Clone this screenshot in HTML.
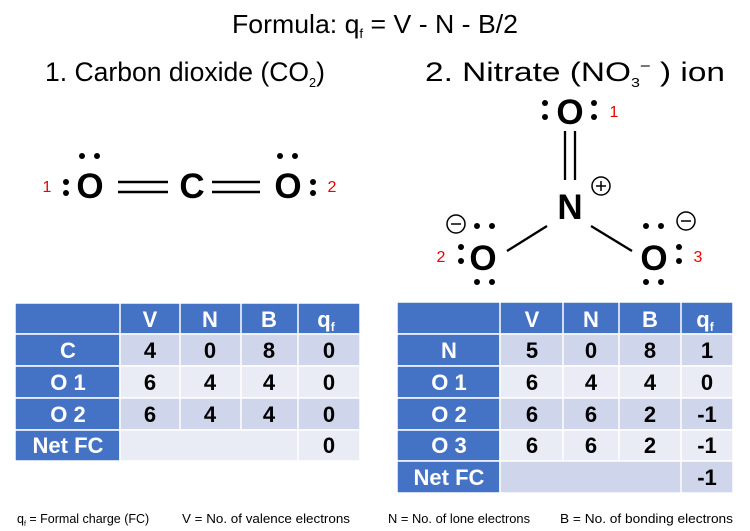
<!DOCTYPE html>
<html><head><meta charset="utf-8"><style>
html,body{margin:0;padding:0;background:#fff;}
svg{display:block;font-family:"Liberation Sans",sans-serif;}
.h{fill:#fff;font-weight:bold;font-size:22px;text-anchor:middle;}
.d{fill:#000;font-weight:bold;font-size:22px;text-anchor:middle;}
.at{font-size:35px;text-anchor:middle;fill:#000;font-weight:bold;}
.r{fill:#e00;font-size:16px;text-anchor:middle;}
.f{font-size:12.5px;fill:#000;}
</style></head><body>
<svg width="750" height="531" viewBox="0 0 750 531">
<text x="232" y="33" font-size="26" textLength="286" lengthAdjust="spacingAndGlyphs">Formula: q<tspan font-size="13" dy="5">f</tspan><tspan dy="-5"> = V - N - B/2</tspan></text>
<text x="45" y="81" font-size="27" textLength="280" lengthAdjust="spacingAndGlyphs">1. Carbon dioxide (CO<tspan font-size="13" dy="6">2</tspan><tspan dy="-6">)</tspan></text>
<text x="425" y="81" font-size="27" textLength="300" lengthAdjust="spacingAndGlyphs">2. Nitrate (NO<tspan font-size="13" dy="6">3</tspan><tspan dy="-16" font-size="15">−</tspan><tspan dy="10" font-size="27"> ) ion</tspan></text>

<!-- CO2 -->
<g fill="#000">
<text class="at" x="90" y="198">O</text>
<text class="at" x="192" y="198">C</text>
<text class="at" x="288" y="198">O</text>
<circle cx="82" cy="156" r="3"/><circle cx="97" cy="156" r="3"/>
<circle cx="66" cy="182" r="3"/><circle cx="66" cy="193" r="3"/>
<circle cx="280" cy="156" r="3"/><circle cx="295" cy="156" r="3"/>
<circle cx="313" cy="182" r="3"/><circle cx="313" cy="193" r="3"/>
</g>
<g stroke="#000" stroke-width="2.5">
<line x1="118" y1="182" x2="168" y2="182"/><line x1="118" y1="192" x2="168" y2="192"/>
<line x1="212" y1="182" x2="260" y2="182"/><line x1="212" y1="192" x2="260" y2="192"/>
</g>
<text class="r" x="47" y="192">1</text>
<text class="r" x="332" y="192">2</text>

<!-- NO3 -->
<g fill="#000">
<text class="at" x="570" y="124">O</text>
<circle cx="545" cy="103" r="3"/><circle cx="545" cy="117" r="3"/>
<circle cx="594" cy="103" r="3"/><circle cx="594" cy="117" r="3"/>
<text class="at" x="570" y="219">N</text>
<text class="at" x="483" y="270">O</text>
<circle cx="477" cy="226" r="3"/><circle cx="492" cy="226" r="3"/>
<circle cx="477" cy="282" r="3"/><circle cx="492" cy="282" r="3"/>
<circle cx="461" cy="247" r="3"/><circle cx="461" cy="261" r="3"/>
<text class="at" x="654" y="270">O</text>
<circle cx="646" cy="226" r="3"/><circle cx="661" cy="226" r="3"/>
<circle cx="646" cy="282" r="3"/><circle cx="661" cy="282" r="3"/>
<circle cx="679" cy="247" r="3"/><circle cx="679" cy="261" r="3"/>
</g>
<g stroke="#000" stroke-width="2.3" fill="none">
<line x1="565" y1="131" x2="565" y2="180"/><line x1="575" y1="131" x2="575" y2="180"/>
<line x1="547" y1="226" x2="507" y2="251"/><line x1="591" y1="226" x2="632" y2="251"/>
<circle cx="601" cy="186" r="9" stroke-width="1.5"/><line x1="596" y1="186" x2="606" y2="186" stroke-width="1.5"/><line x1="601" y1="181" x2="601" y2="191" stroke-width="1.5"/>
<circle cx="456" cy="224" r="9" stroke-width="1.5"/><line x1="451" y1="224" x2="461" y2="224" stroke-width="1.5"/>
<circle cx="686" cy="221" r="9" stroke-width="1.5"/><line x1="681" y1="221" x2="691" y2="221" stroke-width="1.5"/>
</g>
<text class="r" x="614" y="117">1</text>
<text class="r" x="441" y="262">2</text>
<text class="r" x="698" y="262">3</text>

<!-- Table 1 -->
<g stroke="#fff" stroke-width="1.5">
<rect x="15" y="303" width="345" height="31" fill="#4472C4"/>
<rect x="15" y="334" width="105" height="32" fill="#4472C4"/>
<rect x="15" y="366" width="105" height="32" fill="#4472C4"/>
<rect x="15" y="398" width="105" height="32" fill="#4472C4"/>
<rect x="15" y="430" width="105" height="31" fill="#4472C4"/>
<rect x="120" y="334" width="240" height="32" fill="#CFD5EA"/>
<rect x="120" y="366" width="240" height="32" fill="#E9EBF5"/>
<rect x="120" y="398" width="240" height="32" fill="#CFD5EA"/>
<rect x="120" y="430" width="240" height="31" fill="#E9EBF5"/>
</g>
<g stroke="#fff" stroke-width="1.5">
<line x1="120" y1="303" x2="120" y2="334"/><line x1="180" y1="303" x2="180" y2="430"/><line x1="241" y1="303" x2="241" y2="430"/><line x1="298" y1="303" x2="298" y2="461"/>
</g>
<text class="h" x="150" y="327">V</text><text class="h" x="210" y="327">N</text><text class="h" x="269" y="327">B</text><text class="h" x="326" y="327">q<tspan font-size="12" dy="4">f</tspan></text>
<text class="h" x="68" y="358">C</text><text class="h" x="68" y="390">O 1</text><text class="h" x="68" y="422">O 2</text><text class="h" x="68" y="453">Net FC</text>
<text class="d" x="150" y="358">4</text><text class="d" x="210" y="358">0</text><text class="d" x="269" y="358">8</text><text class="d" x="329" y="358">0</text>
<text class="d" x="150" y="390">6</text><text class="d" x="210" y="390">4</text><text class="d" x="269" y="390">4</text><text class="d" x="329" y="390">0</text>
<text class="d" x="150" y="422">6</text><text class="d" x="210" y="422">4</text><text class="d" x="269" y="422">4</text><text class="d" x="329" y="422">0</text>
<text class="d" x="329" y="453">0</text>

<!-- Table 2 -->
<g stroke="#fff" stroke-width="1.5">
<rect x="397" y="302" width="336" height="32" fill="#4472C4"/>
<rect x="397" y="334" width="103" height="32" fill="#4472C4"/>
<rect x="397" y="366" width="103" height="32" fill="#4472C4"/>
<rect x="397" y="398" width="103" height="32" fill="#4472C4"/>
<rect x="397" y="430" width="103" height="31" fill="#4472C4"/>
<rect x="397" y="461" width="103" height="32" fill="#4472C4"/>
<rect x="500" y="334" width="233" height="32" fill="#CFD5EA"/>
<rect x="500" y="366" width="233" height="32" fill="#E9EBF5"/>
<rect x="500" y="398" width="233" height="32" fill="#CFD5EA"/>
<rect x="500" y="430" width="233" height="31" fill="#E9EBF5"/>
<rect x="500" y="461" width="233" height="32" fill="#CFD5EA"/>
</g>
<g stroke="#fff" stroke-width="1.5">
<line x1="500" y1="302" x2="500" y2="334"/><line x1="563" y1="302" x2="563" y2="461"/><line x1="619" y1="302" x2="619" y2="461"/><line x1="681" y1="302" x2="681" y2="493"/>
</g>
<text class="h" x="532" y="327">V</text><text class="h" x="591" y="327">N</text><text class="h" x="650" y="327">B</text><text class="h" x="705" y="327">q<tspan font-size="12" dy="4">f</tspan></text>
<text class="h" x="449" y="358">N</text><text class="h" x="449" y="390">O 1</text><text class="h" x="449" y="422">O 2</text><text class="h" x="449" y="453">O 3</text><text class="h" x="449" y="485">Net FC</text>
<text class="d" x="532" y="358">5</text><text class="d" x="591" y="358">0</text><text class="d" x="650" y="358">8</text><text class="d" x="707" y="358">1</text>
<text class="d" x="532" y="390">6</text><text class="d" x="591" y="390">4</text><text class="d" x="650" y="390">4</text><text class="d" x="707" y="390">0</text>
<text class="d" x="532" y="422">6</text><text class="d" x="591" y="422">6</text><text class="d" x="650" y="422">2</text><text class="d" x="707" y="422">-1</text>
<text class="d" x="532" y="453">6</text><text class="d" x="591" y="453">6</text><text class="d" x="650" y="453">2</text><text class="d" x="707" y="453">-1</text>
<text class="d" x="707" y="485">-1</text>

<!-- Footer -->
<text class="f" x="17" y="523">q<tspan font-size="7" dy="3">f</tspan><tspan dy="-3"> = Formal charge (FC)</tspan></text>
<text class="f" x="182" y="523" textLength="168" lengthAdjust="spacingAndGlyphs">V = No. of valence electrons</text>
<text class="f" x="388" y="523" textLength="142" lengthAdjust="spacingAndGlyphs">N = No. of lone electrons</text>
<text class="f" x="560" y="523" textLength="173" lengthAdjust="spacingAndGlyphs">B = No. of bonding electrons</text>
</svg>
</body></html>
